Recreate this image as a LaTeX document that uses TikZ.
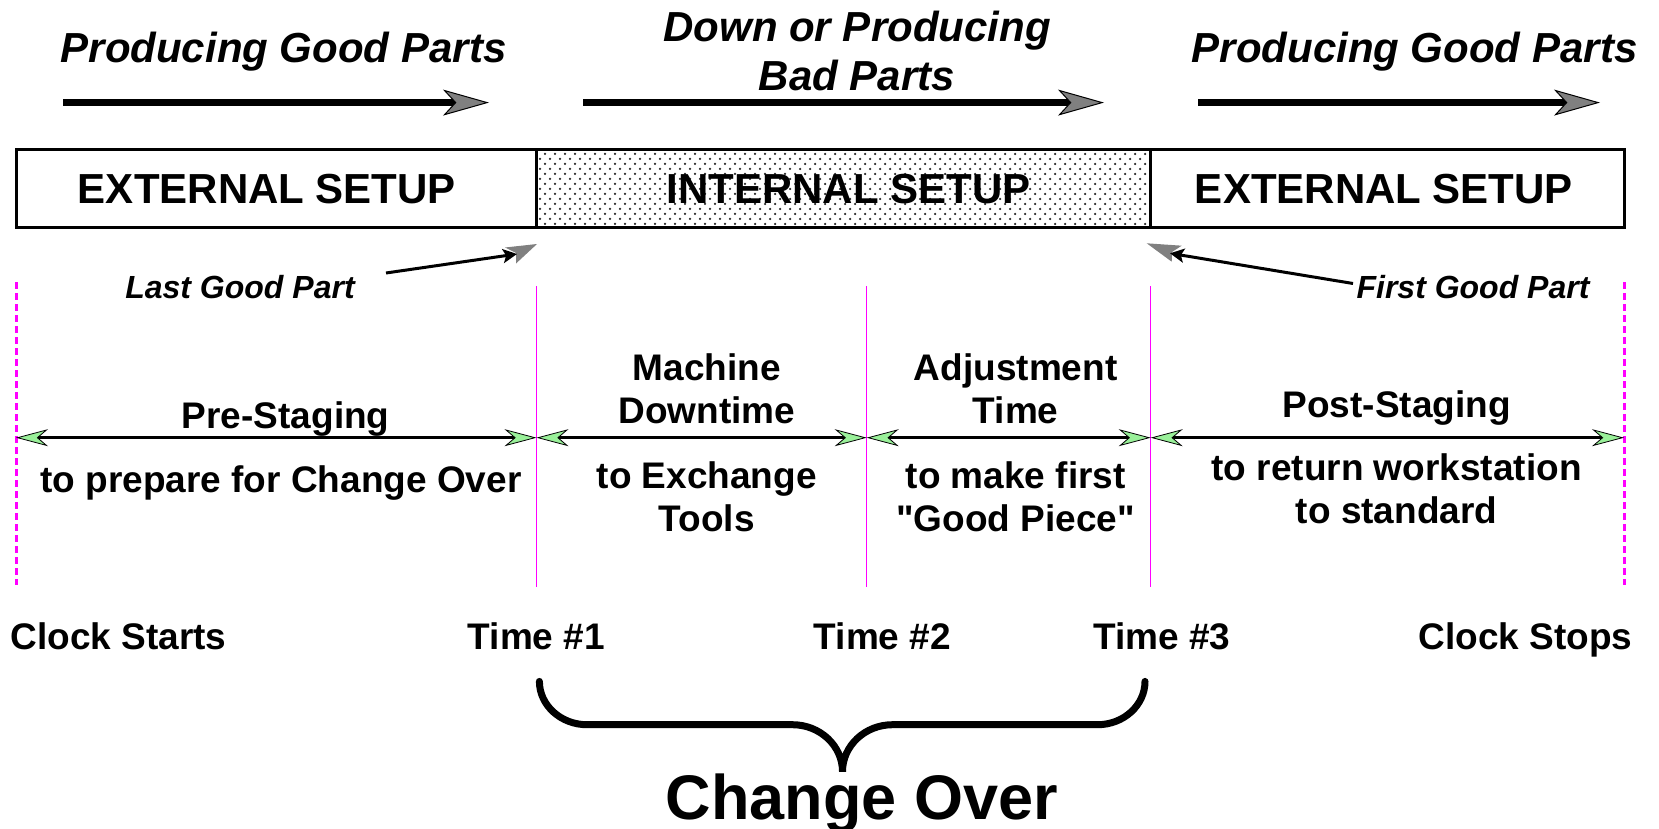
\documentclass[tikz,border=0pt]{standalone}
\usepackage{fontspec}
\setmainfont{Liberation Sans}[Ligatures=TeXOff]
\usetikzlibrary{arrows.meta,patterns}

\definecolor{tipgreen}{RGB}{153,240,153}
\definecolor{guide}{RGB}{255,0,255}
\definecolor{headgray}{RGB}{128,128,128}

% staggered dot screen for the internal-setup band
\pgfdeclarepatternformonly{stipple}{\pgfqpoint{-1.5pt}{-1.5pt}}{\pgfqpoint{6.5pt}{6.5pt}}{\pgfqpoint{10pt}{10pt}}{%
  \pgfpathcircle{\pgfqpoint{0pt}{0pt}}{1.25pt}%
  \pgfpathcircle{\pgfqpoint{5pt}{5pt}}{1.25pt}%
  \pgfusepath{fill}}

\newcommand{\fsz}[1]{\fontsize{#1}{1.17\dimexpr #1pt\relax}\selectfont}

\tikzset{
  lbl/.style={inner sep=0pt, anchor=base, align=center, font=\bfseries\fsz{37}},
  head/.style={inner sep=0pt, anchor=base, align=center, font=\bfseries\itshape\fsz{42}},
  band/.style={inner sep=0pt, anchor=base, font=\bfseries\fsz{42}},
  note/.style={inner sep=0pt, anchor=base, font=\bfseries\itshape\fsz{32}},
  flow/.style={line width=7pt, -{Stealth[length=46pt,width=26pt,inset=12pt,color=black,fill=headgray,line width=1pt]}},
  span/.style={line width=3pt,
    {Stealth[length=32pt,width=17pt,inset=10pt,color=black,fill=tipgreen,line width=0.8pt]}-{Stealth[length=32pt,width=17pt,inset=10pt,color=black,fill=tipgreen,line width=0.8pt]}},
  pointer/.style={line width=3pt, -{Stealth[length=14pt,width=14pt,inset=3pt]}},
  tick/.style={guide, line width=1.5pt},
  clockline/.style={guide, line width=3pt, dash pattern=on 7pt off 4pt},
}

\begin{document}
\begin{tikzpicture}[x=1pt, y=-1pt]
\useasboundingbox (0,0) rectangle (1659,829);

% production state headings and arrows (multi-line nodes sit on their last baseline)
\node[head] (hd1) at (283.5,63) {Producing Good Parts};
\node[head] (hd2) at (857,91) {Down or Producing\\Bad Parts};
\node[head] (hd3) at (1414.5,63) {Producing Good Parts};
\coordinate (f1s) at (63,102.6);   \coordinate (f1e) at (489,102.6);
\coordinate (f2s) at (583,102.6);  \coordinate (f2e) at (1104,102.6);
\coordinate (f3s) at (1198,102.6); \coordinate (f3e) at (1600,102.6);
\draw[flow] (f1s) -- (f1e);
\draw[flow] (f2s) -- (f2e);
\draw[flow] (f3s) -- (f3e);

% setup band
\fill[pattern=stipple, pattern color=black!85] (536.5,149.3) rectangle (1150.7,227.7);
\draw[line width=3pt] (16,149.3) rectangle (1624,227.7);
\draw[line width=3pt] (536.5,149.3) -- (536.5,227.7);
\draw[line width=3pt] (1150.7,149.3) -- (1150.7,227.7);
\node[band] (ext1) at (267,203.5) {EXTERNAL SETUP};
\node[band] (intl) at (848.5,203.5) {INTERNAL SETUP};
\node[band] (ext2) at (1384,203.5) {EXTERNAL SETUP};

% last / first good part pointers
\node[note] (lgp) at (240,298) {Last Good Part};
\node[note] (fgp) at (1473,298) {First Good Part};
\coordinate (lgTail) at (386,273);  \coordinate (lgTip) at (517,254);
\coordinate (fgTail) at (1353,283.5); \coordinate (fgTip) at (1170,253.3);
\fill[headgray] (537,244) -- (505,247.5) -- (516,253) -- (516,263.5) -- cycle;
\fill[headgray] (1146.7,243.3) -- (1181.7,245.7) -- (1172,252) -- (1171.7,261.7) -- cycle;
\draw[pointer] (lgTail) -- (lgTip);
\draw[pointer] (fgTail) -- (fgTip);

% clock and time markers
\draw[clockline] (16,282) -- (16,585);
\draw[clockline] (1624,282) -- (1624,585);
\draw[tick] (536.5,286) -- (536.5,587);
\draw[tick] (866.7,286) -- (866.7,587);
\draw[tick] (1150.7,286) -- (1150.7,587);

% phase spans
\coordinate (t0) at (16,437.7);
\coordinate (t1) at (536.5,437.7);
\coordinate (t2) at (866.7,437.7);
\coordinate (t3) at (1150.7,437.7);
\coordinate (t4) at (1624,437.7);
\draw[span] (t0) -- (t1);
\draw[span] (t1) -- (t2);
\draw[span] (t2) -- (t3);
\draw[span] (t3) -- (t4);

% phase labels
\node[lbl] (pre)  at (285.7,428) {Pre-Staging};
\node[lbl] (preD) at (281,492.5) {to prepare for Change Over};
\node[lbl] (mach)  at (706.7,423.7) {Machine\\Downtime};
\node[lbl] (machD) at (706.7,531.6) {to Exchange\\Tools};
\node[lbl] (adj)  at (1015.7,423.7) {Adjustment\\Time};
\node[lbl] (adjD) at (1015.7,531.6) {to make first\\"Good Piece"};
\node[lbl] (post)  at (1396.6,417.4) {Post-Staging};
\node[lbl] (postD) at (1396.6,523.8) {to return workstation\\to standard};

% time labels
\node[lbl] (cs) at (118.5,649) {Clock Starts};
\node[lbl] (tm1) at (536.4,649) {Time \#1};
\node[lbl] (tm2) at (882.4,649) {Time \#2};
\node[lbl] (tm3) at (1161.7,649) {Time \#3};
\node[lbl] (ce) at (1525.6,649) {Clock Stops};

% change-over brace
\draw[line width=7pt, line cap=round]
  (539.4,681.4) .. controls (539.4,705.2) and (560.8,724.7) .. (587,724.7)
  -- (792.5,724.7) .. controls (820,724.7) and (842.5,745.8) .. (842.5,771.6)
  .. controls (842.5,745.8) and (865,724.7) .. (892.5,724.7)
  -- (1097.5,724.7) .. controls (1123.7,724.7) and (1145,705.2) .. (1145,681.4);
\node[inner sep=0pt, anchor=base, font=\bfseries\fsz{63}] (co) at (862,819) {Change Over};
\end{tikzpicture}
\end{document}
